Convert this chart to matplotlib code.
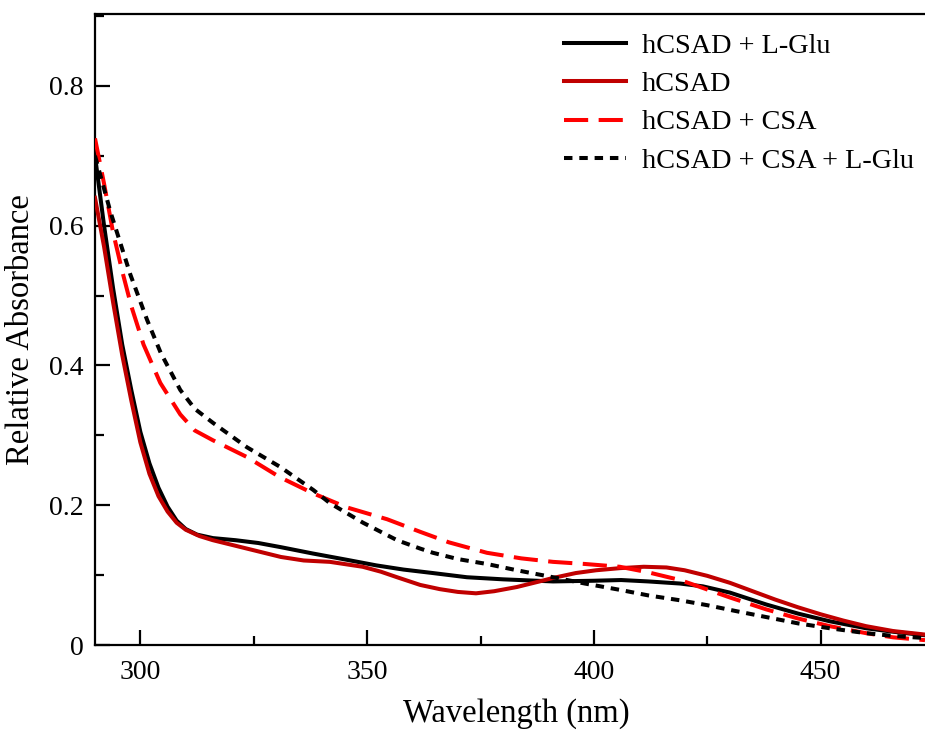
import matplotlib
matplotlib.use("Agg")
import matplotlib.pyplot as plt
from matplotlib.ticker import MultipleLocator

plt.rcParams['font.family'] = ['Liberation Serif', 'DejaVu Serif']

# hCSAD + L-Glu
wl_glu = [290, 292, 294, 296, 298, 300, 302, 304, 306, 308, 310, 312.5, 316, 321, 326,
          331, 338, 345.5, 352, 358, 364.5, 372, 380, 391, 400, 406, 412, 419, 424, 430,
          438, 445, 452, 460, 466, 473]
a_glu = [0.70, 0.60, 0.51, 0.43, 0.365, 0.305, 0.26, 0.225, 0.198, 0.178, 0.166, 0.158,
         0.153, 0.150, 0.146, 0.140, 0.131, 0.122, 0.114, 0.108, 0.103, 0.097, 0.094, 0.091,
         0.092, 0.093, 0.091, 0.088, 0.084, 0.075, 0.058, 0.045, 0.034, 0.024, 0.019, 0.014]

# hCSAD
wl_apo = [290, 292, 294, 296, 298, 300, 302, 304, 306, 308, 310, 313, 316, 321, 326, 331,
          336, 341.8, 349, 353, 356.6, 361.7, 366, 370, 374, 378, 383, 388, 391, 396, 400.5,
          405.7, 411, 416, 420, 425, 430, 435, 440, 445, 450, 455, 460, 466, 473]
a_apo = [0.64, 0.57, 0.49, 0.415, 0.35, 0.29, 0.245, 0.213, 0.191, 0.175, 0.165, 0.156,
         0.150, 0.142, 0.134, 0.126, 0.121, 0.119, 0.112, 0.105, 0.097, 0.086, 0.080, 0.076,
         0.074, 0.077, 0.083, 0.091, 0.096, 0.103, 0.107, 0.110, 0.112, 0.111, 0.107, 0.099,
         0.089, 0.077, 0.065, 0.054, 0.044, 0.035, 0.027, 0.020, 0.015]

# hCSAD + CSA
wl_csa = [290, 292, 294, 296, 298, 300.7, 304.4, 308.8, 312, 316, 323.5, 330.8, 338.1,
          345.5, 354.4, 361.7, 368, 376.4, 384, 391, 398, 405.7, 412, 419, 423, 430, 438,
          445, 452, 460, 466, 473]
a_csa = [0.725, 0.66, 0.59, 0.535, 0.485, 0.43, 0.375, 0.330, 0.307, 0.293, 0.269, 0.240,
         0.217, 0.197, 0.180, 0.162, 0.147, 0.132, 0.124, 0.119, 0.116, 0.112, 0.104, 0.093,
         0.084, 0.068, 0.051, 0.038, 0.027, 0.017, 0.011, 0.007]

# hCSAD + CSA + L-Glu
wl_csa_glu = [290, 293.4, 297.8, 301.5, 304.5, 308.8, 312, 316, 323.5, 330.8, 338.1, 341.8,
              349.1, 356.6, 361.7, 364.5, 370, 376.4, 383, 391, 398, 405.7, 412, 419, 425,
              431, 438, 445, 452, 460, 466, 473]
a_csa_glu = [0.70, 0.62, 0.53, 0.465, 0.418, 0.365, 0.338, 0.318, 0.283, 0.255, 0.222, 0.203,
             0.175, 0.150, 0.138, 0.132, 0.123, 0.116, 0.107, 0.097, 0.088, 0.079, 0.071, 0.064,
             0.057, 0.049, 0.040, 0.031, 0.024, 0.017, 0.013, 0.010]

fig = plt.figure(figsize=(9.25, 7.31), dpi=100)
ax = fig.add_axes([0.1027, 0.1176, 0.8973, 0.8633])

lw = 2.9
ax.plot(wl_glu, a_glu, color='black', lw=lw, label='hCSAD + L-Glu', zorder=3)
ax.plot(wl_apo, a_apo, color='#c00000', lw=lw, label='hCSAD', zorder=3)
ax.plot(wl_csa, a_csa, color='#ff0000', lw=lw, dashes=(6, 2.6), label='hCSAD + CSA', zorder=4)
ax.plot(wl_csa_glu, a_csa_glu, color='black', lw=lw, dashes=(2.1, 1.7),
        label='hCSAD + CSA + L-Glu', zorder=5)

ax.set_xlim(290, 473)
ax.set_ylim(0, 0.903)
ax.xaxis.set_major_locator(MultipleLocator(50))
ax.xaxis.set_minor_locator(MultipleLocator(25))
ax.yaxis.set_minor_locator(MultipleLocator(0.1))
ax.set_yticks([0, 0.2, 0.4, 0.6, 0.8])
ax.set_yticklabels(['0', '0.2', '0.4', '0.6', '0.8'])

ax.tick_params(which='both', direction='in', width=1.6, labelsize=20, top=False, right=False)
ax.tick_params(which='major', length=11)
ax.tick_params(which='minor', length=6.5)
ax.tick_params(axis='x', which='major', pad=11)
ax.tick_params(axis='y', which='major', pad=8)
for side in ['left', 'bottom', 'top']:
    ax.spines[side].set_linewidth(1.6)
ax.spines['right'].set_visible(False)

ax.set_xlabel('Wavelength (nm)', fontsize=23.5)
ax.set_ylabel('Relative Absorbance', fontsize=23.5)
ax.xaxis.set_label_coords(0.508, -0.085)
ax.yaxis.set_label_coords(-0.071, 0.5)

ax.legend(loc='upper right', fontsize=20.3, frameon=False, handlelength=2.2,
          handletextpad=0.55, labelspacing=0.44, borderaxespad=0.0,
          bbox_to_anchor=(1.0, 0.987))

fig.savefig('out.png', dpi=100)
